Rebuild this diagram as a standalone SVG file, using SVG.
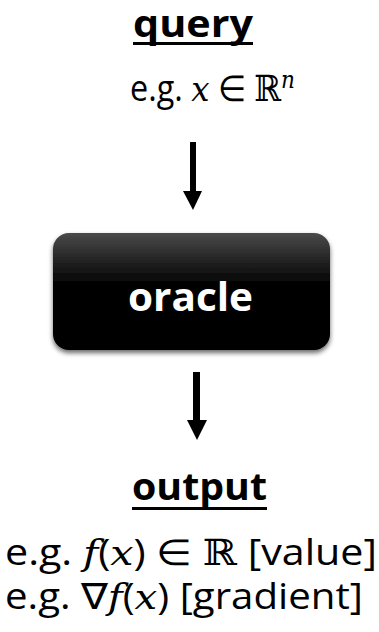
<svg xmlns="http://www.w3.org/2000/svg" width="379" height="632" viewBox="0 0 379 632">
<style>
.t{font-family:"Open Sans","Noto Sans","Liberation Sans",sans-serif;fill:#000}
.h{font-weight:bold;font-size:37px}
.b{font-size:36px}
.m{font-family:"DejaVu Serif","Liberation Serif",serif;font-style:italic}
.ds{font-family:"DejaVu Serif","Liberation Serif",serif}
</style>
<defs>
<linearGradient id="g" x1="0" y1="0" x2="0" y2="1">
<stop offset="0" stop-color="#4a4a4a"/>
<stop offset="0.45" stop-color="#000"/>
<stop offset="1" stop-color="#000"/>
</linearGradient>
<filter id="sh" x="-10%" y="-10%" width="120%" height="130%">
<feGaussianBlur in="SourceAlpha" stdDeviation="2.5"/>
<feOffset dx="0" dy="3"/>
<feComponentTransfer><feFuncA type="linear" slope="0.6"/></feComponentTransfer>
<feMerge><feMergeNode/><feMergeNode in="SourceGraphic"/></feMerge>
</filter>
</defs>
<g id="query">
<text class="t h" x="133" y="37" textLength="120" lengthAdjust="spacingAndGlyphs">query</text>
<rect x="133" y="42" width="120" height="3" fill="#000"/>
<text class="t b" x="130" y="101" textLength="165" lengthAdjust="spacingAndGlyphs">e.g. <tspan class="m">x</tspan> ∈ <tspan class="ds">ℝ</tspan><tspan class="m" font-size="24" dy="-13">n</tspan></text>
</g>
<g id="oracle">
<rect x="53" y="233" width="277" height="117" rx="16" fill="url(#g)" filter="url(#sh)"/>
<text x="128" y="311" textLength="125" lengthAdjust="spacingAndGlyphs" font-family="Open Sans,Noto Sans,sans-serif" font-weight="bold" font-size="40" fill="#fff">oracle</text>
</g>
<g id="output">
<text class="t h" x="132" y="500" textLength="135" lengthAdjust="spacingAndGlyphs">output</text>
<rect x="132" y="507" width="135" height="3" fill="#000"/>
<text class="t b" x="5" y="565" textLength="372" lengthAdjust="spacingAndGlyphs">e.g. <tspan class="m">f</tspan>(<tspan class="m">x</tspan>) ∈ <tspan class="ds">ℝ</tspan> [value]</text>
<text class="t b" x="5" y="609" textLength="358" lengthAdjust="spacingAndGlyphs">e.g. ∇<tspan class="m">f</tspan>(<tspan class="m">x</tspan>) [gradient]</text>
</g>
<g id="connectors" fill="#000">
<path d="M190,142 H196 V191 H202 L193,210 L183,191 H190 Z"/>
<path d="M193,372 H200 V420 H207 L197,440 L187,420 H193 Z"/>
</g>
</svg>
